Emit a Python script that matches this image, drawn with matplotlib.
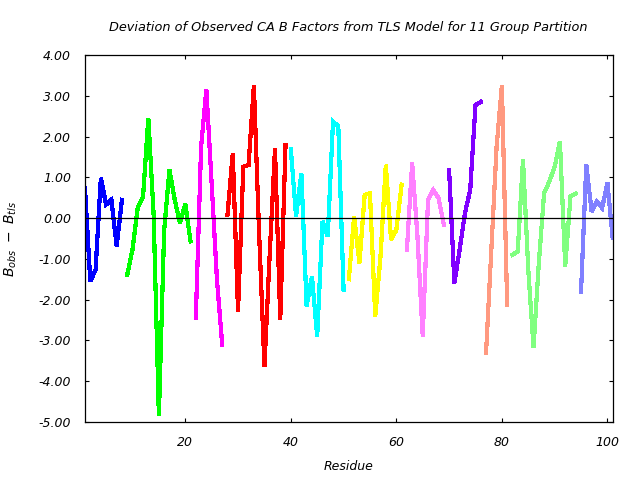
import matplotlib
matplotlib.use("Agg")
import matplotlib.pyplot as plt

# residue start of each TLS group and observed deviations
starts = [1, 9, 22, 28, 40, 51, 62, 70, 77, 82, 95]
g1 = [0.73, -1.55, -1.27, 0.98, 0.33, 0.45, -0.69, 0.45]
g2 = [-1.39, -0.77, 0.27, 0.53, 2.45, 0.1, -4.85, -0.3, 1.18, 0.45, -0.12, 0.35, -0.57]
g3 = [-2.45, 1.75, 3.15, 0.85, -1.5, -3.1]
g4 = [0.08, 1.59, -2.28, 1.26, 1.3, 3.26, -0.4, -3.63, -0.9, 1.7, -2.49, 1.8]
g5 = [1.7, 0.04, 1.1, -2.16, -1.43, -2.9, -0.08, -0.45, 2.37, 2.25, -1.75]
g6 = [-1.5, 0.04, -1.1, 0.57, 0.61, -2.41, -0.94, 1.3, -0.53, -0.29, 0.82]
g7 = [-0.77, 1.35, -0.45, -2.9, 0.45, 0.69, 0.49, -0.16]
g8 = [1.18, -1.59, -0.77, 0.12, 0.69, 2.77, 2.85]
g9 = [-3.3, -0.78, 1.75, 3.26, -2.12]
g10 = [-0.9, -0.82, 1.43, -1.26, -3.18, -1.1, 0.61, 0.9, 1.26, 1.88, -1.18, 0.53, 0.6]
g11 = [-1.8, 1.31, 0.16, 0.41, 0.25, 0.86, -0.49]
groups = [g1, g2, g3, g4, g5, g6, g7, g8, g9, g10, g11]
colors = ['#0000ff', '#00ff00', '#ff00ff', '#ff0000', '#00ffff', '#ffff00',
          '#ff80ff', '#8000ff', '#ff9980', '#80ff80', '#8080ff']
yticks = [4, 3, 2, 1, 0, -1, -2, -3, -4, -5]
xticks = [20, 40, 60, 80, 100]

plt.rcParams['font.family'] = ['DejaVu Sans']
plt.rcParams['mathtext.fontset'] = 'dejavusans'

fig = plt.figure(figsize=(6.4, 4.8), dpi=100)
ax = fig.add_axes([85/640, 1-422/480, (612.7-85)/640, (422-55)/480])

for s, vals, c in zip(starts, groups, colors):
    xs = list(range(s, s + len(vals)))
    ax.plot(xs, vals, color=c, lw=2.3, antialiased=False, solid_joinstyle='miter')

ax.axhline(0, color='black', lw=0.9)
ax.set_xlim(1, 101)
ax.set_ylim(-5, 4)
ax.set_xticks(xticks)
ax.set_yticks(yticks)
ax.set_xticklabels([str(t) for t in xticks], fontstyle='italic', fontsize=9)
ax.set_yticklabels(['%.2f' % t for t in yticks], fontstyle='italic', fontsize=9)
ax.tick_params(direction='in', length=3, width=0.8, top=True, right=True)
ax.tick_params(axis='y', pad=10)
ax.tick_params(axis='x', pad=10)
for sp in ax.spines.values():
    sp.set_linewidth(0.9)

ax.set_xlabel('Residue', fontstyle='italic', fontsize=9, labelpad=8)
ax.set_ylabel(r'$B_{obs}\ -\ B_{tls}$', fontsize=10, labelpad=14)
fig.text(348/640, 1-27/480, 'Deviation of Observed CA B Factors from TLS Model for 11 Group Partition',
         ha='center', va='center', fontstyle='italic', fontsize=9.3)

fig.savefig('out.png', dpi=100)
